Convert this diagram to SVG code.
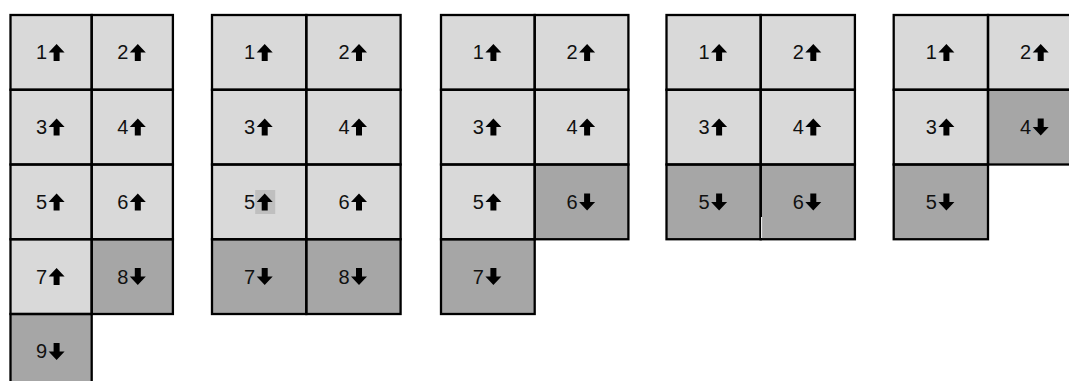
<svg xmlns="http://www.w3.org/2000/svg" xmlns:xlink="http://www.w3.org/1999/xlink" width="1069" height="381" viewBox="0 0 1069 381">
<style>
.up{fill:#d9d9d9}
.dn{fill:#a6a6a6}
.ln{fill:none;stroke:#000;stroke-width:2.3}
.t{font-family:"Liberation Sans",Arial,sans-serif;font-size:20px;fill:#111;text-anchor:end}
.ar{fill:#000}
</style>
<defs>
<path id="au" d="M0,-8.5 L8,0 L3,0 L3,8.5 L-3,8.5 L-3,0 L-8,0 Z"/>
<path id="ad" d="M0,8.5 L8,0 L3,0 L3,-8.5 L-3,-8.5 L-3,0 L-8,0 Z"/>
</defs>
<rect width="1069" height="381" fill="#fff"/>

<!-- Panel 1 -->
<g id="panel1">
<g id="p1-c1"><rect class="up" x="10.5" y="15" width="81.2" height="74.75"/><text class="t" x="47.1" y="59.4">1</text><use class="ar" xlink:href="#au" x="56.6" y="52.4"/></g>
<g id="p1-c2"><rect class="up" x="91.7" y="15" width="81.2" height="74.75"/><text class="t" x="128.3" y="59.4">2</text><use class="ar" xlink:href="#au" x="137.8" y="52.4"/></g>
<g id="p1-c3"><rect class="up" x="10.5" y="89.75" width="81.2" height="74.75"/><text class="t" x="47.1" y="134.1">3</text><use class="ar" xlink:href="#au" x="56.6" y="127.1"/></g>
<g id="p1-c4"><rect class="up" x="91.7" y="89.75" width="81.2" height="74.75"/><text class="t" x="128.3" y="134.1">4</text><use class="ar" xlink:href="#au" x="137.8" y="127.1"/></g>
<g id="p1-c5"><rect class="up" x="10.5" y="164.5" width="81.2" height="74.75"/><text class="t" x="47.1" y="208.9">5</text><use class="ar" xlink:href="#au" x="56.6" y="201.9"/></g>
<g id="p1-c6"><rect class="up" x="91.7" y="164.5" width="81.2" height="74.75"/><text class="t" x="128.3" y="208.9">6</text><use class="ar" xlink:href="#au" x="137.8" y="201.9"/></g>
<g id="p1-c7"><rect class="up" x="10.5" y="239.25" width="81.2" height="74.75"/><text class="t" x="47.1" y="283.6">7</text><use class="ar" xlink:href="#au" x="56.6" y="276.6"/></g>
<g id="p1-c8"><rect class="dn" x="91.7" y="239.25" width="81.2" height="74.75"/><text class="t" x="128.3" y="283.6">8</text><use class="ar" xlink:href="#ad" x="137.8" y="276.6"/></g>
<g id="p1-c9"><rect class="dn" x="10.5" y="314" width="81.2" height="74.75"/><text class="t" x="47.1" y="358.4">9</text><use class="ar" xlink:href="#ad" x="56.6" y="351.4"/></g>
<g class="ln">
<rect x="10.5" y="15" width="81.2" height="74.75"/><rect x="91.7" y="15" width="81.2" height="74.75"/>
<rect x="10.5" y="89.75" width="81.2" height="74.75"/><rect x="91.7" y="89.75" width="81.2" height="74.75"/>
<rect x="10.5" y="164.5" width="81.2" height="74.75"/><rect x="91.7" y="164.5" width="81.2" height="74.75"/>
<rect x="10.5" y="239.25" width="81.2" height="74.75"/><rect x="91.7" y="239.25" width="81.2" height="74.75"/>
<rect x="10.5" y="314" width="81.2" height="74.75"/>
</g>
</g>

<!-- Panel 2 -->
<g id="panel2">
<g id="p2-c1"><rect class="up" x="212" y="15" width="94.3" height="74.75"/><text class="t" x="255.2" y="59.4">1</text><use class="ar" xlink:href="#au" x="264.7" y="52.4"/></g>
<g id="p2-c2"><rect class="up" x="306.3" y="15" width="94.3" height="74.75"/><text class="t" x="349.5" y="59.4">2</text><use class="ar" xlink:href="#au" x="359" y="52.4"/></g>
<g id="p2-c3"><rect class="up" x="212" y="89.75" width="94.3" height="74.75"/><text class="t" x="255.2" y="134.1">3</text><use class="ar" xlink:href="#au" x="264.7" y="127.1"/></g>
<g id="p2-c4"><rect class="up" x="306.3" y="89.75" width="94.3" height="74.75"/><text class="t" x="349.5" y="134.1">4</text><use class="ar" xlink:href="#au" x="359" y="127.1"/></g>
<g id="p2-c5"><rect class="up" x="212" y="164.5" width="94.3" height="74.75"/><rect x="255.2" y="190" width="20" height="24" fill="#bfbfbf"/><text class="t" x="255.2" y="208.9">5</text><use class="ar" xlink:href="#au" x="264.7" y="201.9"/></g>
<g id="p2-c6"><rect class="up" x="306.3" y="164.5" width="94.3" height="74.75"/><text class="t" x="349.5" y="208.9">6</text><use class="ar" xlink:href="#au" x="359" y="201.9"/></g>
<g id="p2-c7"><rect class="dn" x="212" y="239.25" width="94.3" height="74.75"/><text class="t" x="255.2" y="283.6">7</text><use class="ar" xlink:href="#ad" x="264.7" y="276.6"/></g>
<g id="p2-c8"><rect class="dn" x="306.3" y="239.25" width="94.3" height="74.75"/><text class="t" x="349.5" y="283.6">8</text><use class="ar" xlink:href="#ad" x="359" y="276.6"/></g>
<g class="ln">
<rect x="212" y="15" width="94.3" height="74.75"/><rect x="306.3" y="15" width="94.3" height="74.75"/>
<rect x="212" y="89.75" width="94.3" height="74.75"/><rect x="306.3" y="89.75" width="94.3" height="74.75"/>
<rect x="212" y="164.5" width="94.3" height="74.75"/><rect x="306.3" y="164.5" width="94.3" height="74.75"/>
<rect x="212" y="239.25" width="94.3" height="74.75"/><rect x="306.3" y="239.25" width="94.3" height="74.75"/>
</g>
</g>

<!-- Panel 3 -->
<g id="panel3">
<g id="p3-c1"><rect class="up" x="441" y="15" width="93.7" height="74.75"/><text class="t" x="483.9" y="59.4">1</text><use class="ar" xlink:href="#au" x="493.4" y="52.4"/></g>
<g id="p3-c2"><rect class="up" x="534.7" y="15" width="93.7" height="74.75"/><text class="t" x="577.6" y="59.4">2</text><use class="ar" xlink:href="#au" x="587.1" y="52.4"/></g>
<g id="p3-c3"><rect class="up" x="441" y="89.75" width="93.7" height="74.75"/><text class="t" x="483.9" y="134.1">3</text><use class="ar" xlink:href="#au" x="493.4" y="127.1"/></g>
<g id="p3-c4"><rect class="up" x="534.7" y="89.75" width="93.7" height="74.75"/><text class="t" x="577.6" y="134.1">4</text><use class="ar" xlink:href="#au" x="587.1" y="127.1"/></g>
<g id="p3-c5"><rect class="up" x="441" y="164.5" width="93.7" height="74.75"/><text class="t" x="483.9" y="208.9">5</text><use class="ar" xlink:href="#au" x="493.4" y="201.9"/></g>
<g id="p3-c6"><rect class="dn" x="534.7" y="164.5" width="93.7" height="74.75"/><text class="t" x="577.6" y="208.9">6</text><use class="ar" xlink:href="#ad" x="587.1" y="201.9"/></g>
<g id="p3-c7"><rect class="dn" x="441" y="239.25" width="93.7" height="74.75"/><text class="t" x="483.9" y="283.6">7</text><use class="ar" xlink:href="#ad" x="493.4" y="276.6"/></g>
<g class="ln">
<rect x="441" y="15" width="93.7" height="74.75"/><rect x="534.7" y="15" width="93.7" height="74.75"/>
<rect x="441" y="89.75" width="93.7" height="74.75"/><rect x="534.7" y="89.75" width="93.7" height="74.75"/>
<rect x="441" y="164.5" width="93.7" height="74.75"/><rect x="534.7" y="164.5" width="93.7" height="74.75"/>
<rect x="441" y="239.25" width="93.7" height="74.75"/>
</g>
</g>

<!-- Panel 4 -->
<g id="panel4">
<g id="p4-c1"><rect class="up" x="666.5" y="15" width="94.2" height="74.75"/><text class="t" x="709.6" y="59.4">1</text><use class="ar" xlink:href="#au" x="719.1" y="52.4"/></g>
<g id="p4-c2"><rect class="up" x="760.7" y="15" width="94.2" height="74.75"/><text class="t" x="803.8" y="59.4">2</text><use class="ar" xlink:href="#au" x="813.3" y="52.4"/></g>
<g id="p4-c3"><rect class="up" x="666.5" y="89.75" width="94.2" height="74.75"/><text class="t" x="709.6" y="134.1">3</text><use class="ar" xlink:href="#au" x="719.1" y="127.1"/></g>
<g id="p4-c4"><rect class="up" x="760.7" y="89.75" width="94.2" height="74.75"/><text class="t" x="803.8" y="134.1">4</text><use class="ar" xlink:href="#au" x="813.3" y="127.1"/></g>
<g id="p4-c5"><rect class="dn" x="666.5" y="164.5" width="94.2" height="74.75"/><text class="t" x="709.6" y="208.9">5</text><use class="ar" xlink:href="#ad" x="719.1" y="201.9"/></g>
<g id="p4-c6"><rect class="dn" x="760.7" y="164.5" width="94.2" height="74.75"/><text class="t" x="803.8" y="208.9">6</text><use class="ar" xlink:href="#ad" x="813.3" y="201.9"/></g>
<g class="ln">
<rect x="666.5" y="15" width="94.2" height="74.75"/><rect x="760.7" y="15" width="94.2" height="74.75"/>
<rect x="666.5" y="89.75" width="94.2" height="74.75"/><rect x="760.7" y="89.75" width="94.2" height="74.75"/>
<rect x="666.5" y="164.5" width="94.2" height="74.75"/><rect x="760.7" y="164.5" width="94.2" height="74.75"/>
</g>
<line x1="761.6" y1="217" x2="761.6" y2="238" stroke="#fff" stroke-width="1"/>
</g>

<!-- Panel 5 -->
<g id="panel5">
<g id="p5-c1"><rect class="up" x="893.7" y="15" width="94.3" height="74.75"/><text class="t" x="936.9" y="59.4">1</text><use class="ar" xlink:href="#au" x="946.4" y="52.4"/></g>
<g id="p5-c2"><rect class="up" x="988" y="15" width="94.3" height="74.75"/><text class="t" x="1031.2" y="59.4">2</text><use class="ar" xlink:href="#au" x="1040.7" y="52.4"/></g>
<g id="p5-c3"><rect class="up" x="893.7" y="89.75" width="94.3" height="74.75"/><text class="t" x="936.9" y="134.1">3</text><use class="ar" xlink:href="#au" x="946.4" y="127.1"/></g>
<g id="p5-c4"><rect class="dn" x="988" y="89.75" width="94.3" height="74.75"/><text class="t" x="1031.2" y="134.1">4</text><use class="ar" xlink:href="#ad" x="1040.7" y="127.1"/></g>
<g id="p5-c5"><rect class="dn" x="893.7" y="164.5" width="94.3" height="74.75"/><text class="t" x="936.9" y="208.9">5</text><use class="ar" xlink:href="#ad" x="946.4" y="201.9"/></g>
<g class="ln">
<rect x="893.7" y="15" width="94.3" height="74.75"/><rect x="988" y="15" width="94.3" height="74.75"/>
<rect x="893.7" y="89.75" width="94.3" height="74.75"/><rect x="988" y="89.75" width="94.3" height="74.75"/>
<rect x="893.7" y="164.5" width="94.3" height="74.75"/>
</g>
</g>
</svg>
